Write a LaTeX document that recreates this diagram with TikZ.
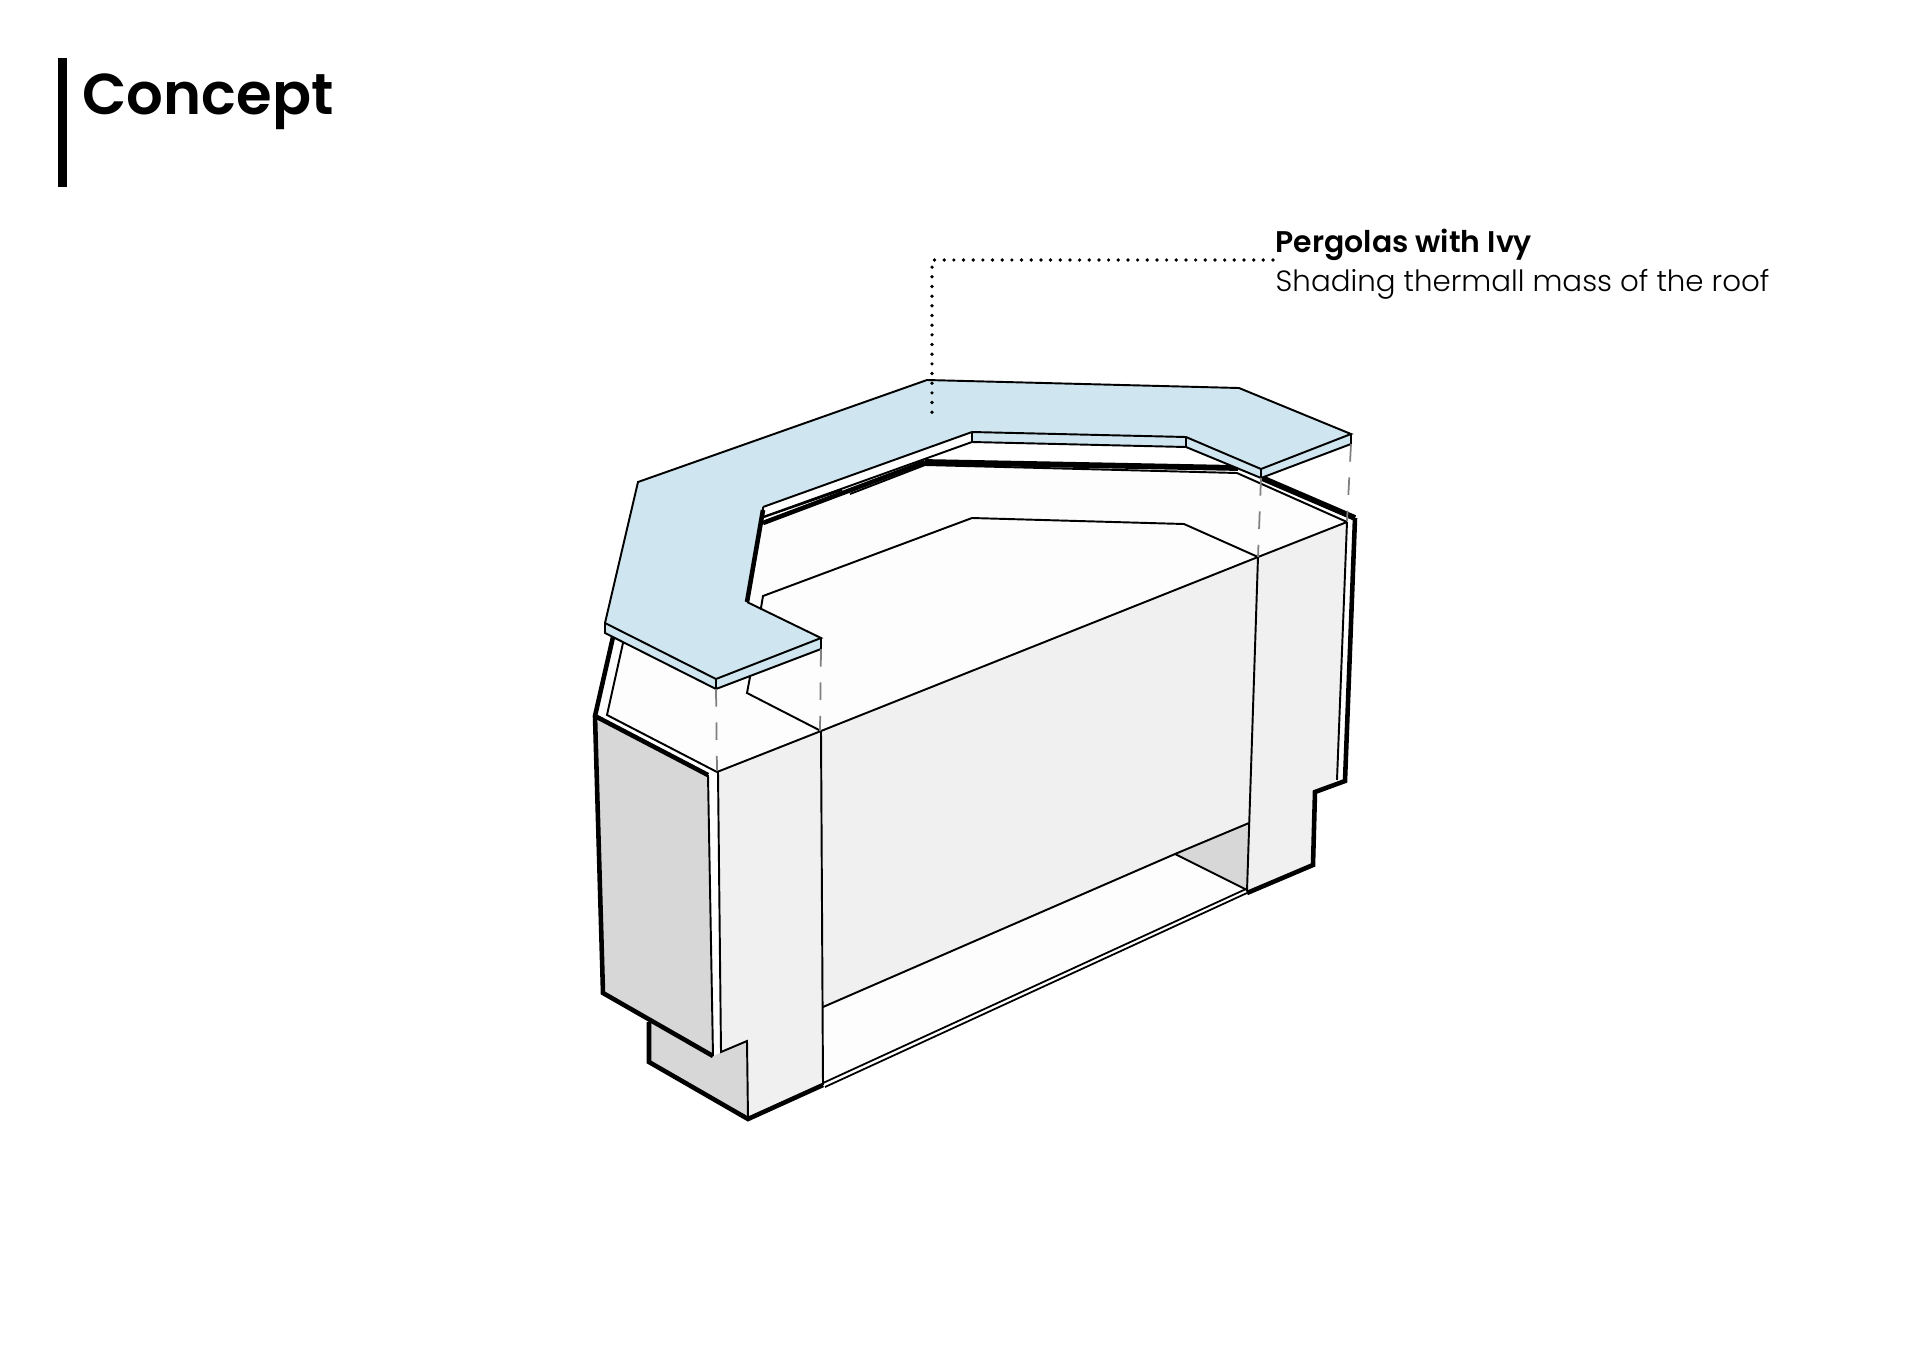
\documentclass[tikz,border=0pt]{standalone}
\usepackage{fontspec}
\setmainfont{Poppins}
\newfontfamily\headfont{Poppins SemiBold}
\newfontfamily\labelfont{Poppins SemiBold}
\newfontfamily\notefont{Poppins Light}
\definecolor{roofBlue}{HTML}{CFE5EF}
\definecolor{wallLight}{HTML}{F0F0F0}
\definecolor{wallDark}{HTML}{D7D7D7}
\definecolor{topWhite}{HTML}{FDFDFD}
\tikzset{
  thinline/.style={line width=0.55pt, line join=miter},
  doubleline/.style={line width=0.5pt},
  thickline/.style={line width=1.3pt, line join=miter},
  rimline/.style={line width=1.65pt, line join=miter},
  hangline/.style={line width=0.5pt, black!50, dash pattern=on 5pt off 4.5pt},
  leaderline/.style={line width=1.05pt, line cap=round, dash pattern=on 0pt off 2.75pt},
  textnode/.style={anchor=base west, inner sep=0pt}
}
\begin{document}
\begin{tikzpicture}[x=0.01cm, y=-0.01cm]
  \useasboundingbox (0,0) rectangle (1920,1357);
  \fill[black] (58,58) rectangle (67,187);
  \node[textnode] (title) at (82,114) {\headfont\fontsize{16.4}{20}\selectfont Concept};

  % ---- top of the walls ----
  \fill[topWhite] (613,637) -- (595,715) -- (717,771) -- (1258,557) -- (1347,522) -- (1355,518) -- (1262,478) -- (925,462) -- (763,523) -- (747,602) -- (821,640) -- (750,677) -- cycle;
  % ---- faces ----
  \fill[wallDark] (595,716) -- (708,775) -- (713,1056) -- (603,993) -- cycle;
  \fill[wallDark] (649,1022) -- (713,1056) -- (747,1041) -- (748,1118) -- (649,1062) -- cycle;
  \fill[wallLight] (718,772) -- (821,731) -- (823,1085) -- (748,1118) -- (747,1041) -- (721,1052) -- cycle;
  \fill[wallLight] (821,731) -- (1258,557) -- (1249,823) -- (1175,854) -- (823,1007) -- cycle;
  \fill[topWhite] (823,1007) -- (1175,854) -- (1247,890) -- (823,1085) -- cycle;
  \fill[wallDark] (1175,854) -- (1249,823) -- (1247,890) -- cycle;
  \fill[wallLight] (1258,557) -- (1347,522) -- (1337,780) -- (1315,792) -- (1313,865) -- (1247,893) -- cycle;
  \fill[white] (1347,522) -- (1355,518) -- (1345,781) -- (1337,780) -- cycle;
  \fill[white] (708,775) -- (717,771) -- (721,1052) -- (713,1056) -- cycle;

  % ---- wall lines ----
  \draw[thinline] (717,772) -- (821,731) -- (1258,557) -- (1347,522);
  \draw[thinline] (821,731) -- (823,1085);
  \draw[thinline] (1258,557) -- (1247,891);
  \draw[thinline] (823,1007) -- (1175,854) -- (1249,823);
  \draw[thinline] (1175,854) -- (1247,890);
  \draw[thinline] (718,772) -- (721,1052) -- (747,1041) -- (748,1118);
  \draw[thinline] (708,775) -- (713,1056);
  \draw[thinline] (1347,522) -- (1337,780);
  \draw[doubleline] (823,1083) -- (1246,889);
  \draw[doubleline] (825,1087) -- (1247,893);
  % ---- inner well ----
  \draw[thinline] (761,608) -- (763,596) -- (972,518) -- (1184,524) -- (1258,557);
  \draw[thinline] (750,677) -- (747,693) -- (821,731);
  % ---- thin rim ----
  \draw[thinline] (623,643) -- (607,715) -- (717,772);
  \draw[thinline] (850,494) -- (925,465) -- (1237,473) -- (1347,522);
  \draw[thinline] (764,517) -- (842,490);
  % ---- thick outline ----
  \draw[thickline] (613,637) -- (595,716) -- (603,993) -- (713,1056);
  \draw[thickline] (595,716) -- (708,775) ;
  \draw[thickline] (649,1022) -- (649,1062) -- (748,1119) -- (823,1085);
  \draw[thickline] (1247,893) -- (1313,865) -- (1315,792) -- (1345,781) -- (1355,518);
  \draw[rimline] (1355,518) -- (1262,478);
  \draw[thickline] (763,523) -- (925,462);
  \draw[rimline] (925,462) -- (1238,468);

  % ---- pergola ----
  \fill[roofBlue] (605,623) -- (605,633) -- (716,689) -- (821,649) -- (821,638) -- (747,602) -- (763,507) -- (972,432) -- (972,442) -- (1186,447) -- (1261,478) -- (1351,444) -- (1351,434) -- (1239,388) -- (927,380) -- (638,482) -- cycle;
  \draw[thinline] (605,623) -- (638,482) -- (927,380) -- (1239,388) -- (1351,434) -- (1261,469) -- (1186,437) -- (972,432) -- (763,507);
  \draw[thinline] (605,623) -- (716,679) -- (821,638) -- (747,602);
  \draw[thinline] (605,623) -- (605,633) -- (716,689) -- (821,649) -- (821,638);
  \draw[thinline] (716,679) -- (716,689);
  \draw[thinline] (763,507) -- (763,517) -- (972,442) -- (1186,447) -- (1261,478) -- (1351,444) -- (1351,434);
  \draw[thinline] (972,432) -- (972,442);
  \draw[thinline] (1186,437) -- (1186,447);
  \draw[thinline] (1261,469) -- (1261,478);
  \draw[thickline] (763,510) -- (747,602);

  % ---- hanging lines ----
  \draw[hangline] (716,689) -- (717,771);
  \draw[hangline] (821,649) -- (820,731);
  \draw[hangline] (1261,478) -- (1258,557);
  \draw[hangline] (1351,444) -- (1347,521);

  % ---- label ----
  \node[textnode] (pergolaName) at (1275,252) {\labelfont\fontsize{8.5}{10}\selectfont Pergolas with Ivy};
  \node[textnode] (pergolaNote) at (1275,291) {\notefont\fontsize{8.33}{10}\selectfont Shading thermall mass of the roof};
  \coordinate (bend) at (932,260);
  \coordinate (leaderEnd) at (932,416);
  \draw[leaderline] (1273,260) -- (bend) -- (leaderEnd);
\end{tikzpicture}
\end{document}
